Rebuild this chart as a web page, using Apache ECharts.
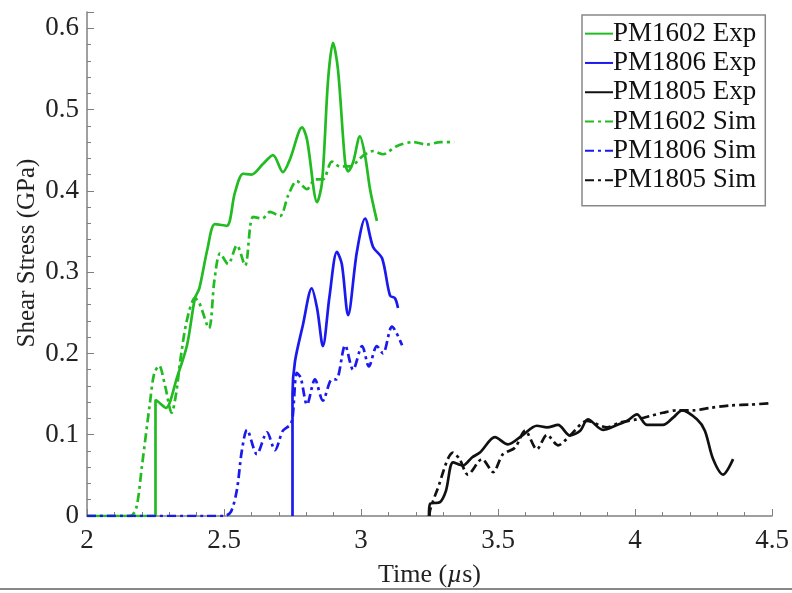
<!DOCTYPE html>
<html><head><meta charset="utf-8">
<script src="https://cdn.jsdelivr.net/npm/echarts@6/dist/echarts.min.js"></script>
<style>html,body{margin:0;padding:0;background:#fff}#c{width:792px;height:593px}</style>
</head><body><div id="c"></div>
<script>
const seriesNames = ['PM1602 Exp','PM1806 Exp','PM1805 Exp','PM1602 Sim','PM1806 Sim','PM1805 Sim'];
const xTicks = [2, 2.5, 3, 3.5, 4, 4.5];
const yTicks = [0, 0.1, 0.2, 0.3, 0.4, 0.5, 0.6];

const pm1602Exp = [[2.0,0],[2.25,0],[2.25,0.143],[2.262,0.14],[2.288,0.133],[2.328,0.17],[2.365,0.21],[2.394,0.268],[2.41,0.28],[2.44,0.329],[2.467,0.359],[2.51,0.357],[2.54,0.398],[2.57,0.421],[2.60,0.42],[2.642,0.433],[2.679,0.444],[2.715,0.423],[2.741,0.439],[2.785,0.478],[2.803,0.463],[2.84,0.386],[2.858,0.411],[2.88,0.537],[2.898,0.582],[2.916,0.549],[2.942,0.435],[2.953,0.424],[2.971,0.435],[2.996,0.467],[3.015,0.443],[3.033,0.402],[3.058,0.363]];
const pm1806Exp = [[2.75,0],[2.75,0.15],[2.759,0.19],[2.788,0.235],[2.82,0.28],[2.84,0.255],[2.861,0.209],[2.885,0.27],[2.912,0.325],[2.93,0.31],[2.953,0.247],[2.985,0.325],[3.015,0.366],[3.044,0.331],[3.077,0.317],[3.106,0.271],[3.124,0.268],[3.135,0.256]];
const pm1805Exp = [[3.248,0],[3.252,0.015],[3.288,0.017],[3.31,0.031],[3.336,0.066],[3.372,0.062],[3.405,0.072],[3.434,0.078],[3.489,0.097],[3.536,0.088],[3.588,0.099],[3.642,0.111],[3.679,0.109],[3.719,0.112],[3.763,0.099],[3.8,0.105],[3.828,0.119],[3.883,0.106],[3.934,0.112],[3.971,0.117],[4.007,0.125],[4.044,0.112],[4.102,0.112],[4.139,0.121],[4.172,0.13],[4.226,0.119],[4.255,0.105],[4.285,0.07],[4.321,0.051],[4.358,0.07]];
const pm1602Sim = [[2.0,0],[2.157,0],[2.18,0.01],[2.20,0.06],[2.23,0.14],[2.245,0.175],[2.263,0.185],[2.285,0.16],[2.309,0.127],[2.325,0.15],[2.34,0.19],[2.364,0.24],[2.394,0.268],[2.41,0.262],[2.445,0.231],[2.465,0.29],[2.486,0.323],[2.515,0.31],[2.547,0.333],[2.577,0.308],[2.606,0.368],[2.64,0.366],[2.668,0.374],[2.704,0.369],[2.735,0.395],[2.766,0.412],[2.803,0.402],[2.832,0.414],[2.861,0.414],[2.894,0.436],[2.923,0.43],[2.96,0.43],[3.007,0.443],[3.044,0.449],[3.08,0.445],[3.13,0.455],[3.19,0.46],[3.24,0.457],[3.29,0.46],[3.34,0.46]];
const pm1806Sim = [[2.0,0],[2.5,0],[2.525,0.005],[2.547,0.032],[2.565,0.08],[2.584,0.106],[2.62,0.076],[2.657,0.103],[2.686,0.081],[2.715,0.105],[2.741,0.112],[2.75,0.12],[2.766,0.176],[2.78,0.17],[2.803,0.137],[2.832,0.168],[2.861,0.142],[2.894,0.168],[2.91,0.168],[2.942,0.21],[2.971,0.18],[3.004,0.209],[3.029,0.184],[3.058,0.209],[3.08,0.2],[3.113,0.233],[3.15,0.21]];
const pm1805Sim = [[3.25,0],[3.252,0.007],[3.277,0.031],[3.336,0.078],[3.36,0.07],[3.39,0.051],[3.442,0.07],[3.482,0.054],[3.518,0.076],[3.562,0.084],[3.599,0.105],[3.642,0.082],[3.679,0.1],[3.719,0.087],[3.763,0.099],[3.825,0.117],[3.898,0.109],[3.945,0.115],[4.007,0.119],[4.055,0.123],[4.102,0.127],[4.153,0.13],[4.212,0.13],[4.274,0.133],[4.347,0.136],[4.42,0.137],[4.5,0.139]];

const GREEN = '#22bb22', BLUE = '#1a1aee', BLACK = '#111111';
const DASHDOT = [9, 4, 3, 4];
const FONT = 'Liberation Serif';

function mk(name, data, color, dashed) {
  return {
    name, type: 'line', data, symbol: 'none', showSymbol: false, smooth: 0.3,
    lineStyle: { color, width: 2.7, type: dashed ? DASHDOT : 'solid' },
    itemStyle: { color },
    animation: false
  };
}

const chart = echarts.init(document.getElementById('c'), null, { renderer: 'canvas' });
chart.setOption({
  backgroundColor: '#fff',
  animation: false,
  grid: { left: 87, right: 20, top: 12, bottom: 74 },
  xAxis: {
    type: 'value', min: 2, max: 4.5, interval: 0.5,
    name: '{n|Time (}{i|µ}{n|s)}', nameLocation: 'middle', nameGap: 46,
    nameTextStyle: { rich: { n: { fontFamily: FONT, fontSize: 26, color: '#222' }, i: { fontFamily: FONT, fontStyle: 'italic', fontSize: 26, color: '#222' } } },
    axisLine: { show: true, lineStyle: { color: '#808080', width: 1.5 } },
    axisTick: { show: true, inside: true, length: 7, lineStyle: { color: '#808080' } },
    minorTick: { show: true, splitNumber: 5, length: 4, lineStyle: { color: '#808080' } },
    splitLine: { show: false },
    axisLabel: { fontFamily: FONT, fontSize: 27, color: '#222', margin: 11,
      formatter: v => xTicks.includes(+v.toFixed(3)) ? String(v) : '' }
  },
  yAxis: {
    type: 'value', min: 0, max: 0.62, interval: 0.1,
    axisLine: { show: true, lineStyle: { color: '#808080', width: 1.5 } },
    axisTick: { show: true, inside: true, length: 7, lineStyle: { color: '#808080' } },
    minorTick: { show: true, splitNumber: 5, length: 4, lineStyle: { color: '#808080' } },
    splitLine: { show: false },
    axisLabel: { fontFamily: FONT, fontSize: 27, color: '#222', margin: 8, showMaxLabel: false,
      formatter: v => yTicks.includes(+v.toFixed(3)) ? String(+v.toFixed(1)) : '' }
  },
  legend: {
    orient: 'vertical', left: 582, top: 15,
    data: seriesNames,
    itemWidth: 28, itemHeight: 14, itemGap: 0,
    padding: [4, 9, 11, 2],
    borderColor: '#888', borderWidth: 1.5,
    itemStyle: { opacity: 0 },
    textStyle: { fontFamily: FONT, fontSize: 27, lineHeight: 29.3, color: '#111', padding: [0, 0, 0, -5] }
  },
  graphic: [
    { type: 'line', shape: { x1: 0, y1: 589, x2: 792, y2: 589 }, style: { stroke: '#888', lineWidth: 2 } },
    { type: 'text', x: 27, y: 253, rotation: Math.PI / 2,
      style: { text: 'Shear Stress (GPa)', fontFamily: FONT, fontSize: 25, fill: '#222', align: 'center', verticalAlign: 'middle' } }
  ],
  series: [
    mk(seriesNames[0], pm1602Exp, GREEN, false),
    mk(seriesNames[1], pm1806Exp, BLUE, false),
    mk(seriesNames[2], pm1805Exp, BLACK, false),
    mk(seriesNames[3], pm1602Sim, GREEN, true),
    mk(seriesNames[4], pm1806Sim, BLUE, true),
    mk(seriesNames[5], pm1805Sim, BLACK, true)
  ]
});
</script></body></html>
